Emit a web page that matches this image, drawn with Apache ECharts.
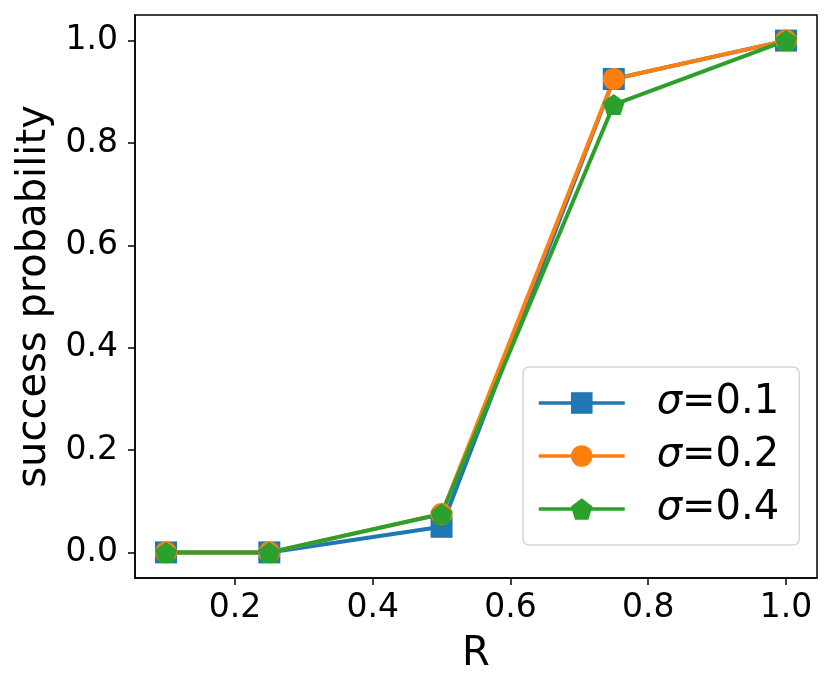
<!DOCTYPE html>
<html>
<head>
<meta charset="utf-8">
<script src="https://cdn.jsdelivr.net/npm/echarts@6/dist/echarts.min.js"></script>
<style>
html, body { margin: 0; padding: 0; background: #fff; }
#chart_main { width: 831px; height: 691px; }
</style>
</head>
<body>
<div id="chart_main"></div>
<script type="text/javascript">
// data
var r_values = [0.1, 0.25, 0.5, 0.75, 1.0];
var sigma_names = ['σ=0.1', 'σ=0.2', 'σ=0.4'];
var p_sigma01 = [0, 0, 0.05, 0.925, 1.0];
var p_sigma02 = [0, 0, 0.075, 0.925, 1.0];
var p_sigma04 = [0, 0, 0.075, 0.875, 1.0];
var x_ticks = [0.2, 0.4, 0.6, 0.8, 1.0];
var y_ticks = [0.0, 0.2, 0.4, 0.6, 0.8, 1.0];

var colors = ['#1f77b4', '#ff7f0e', '#2ca02c'];
var pentagon = 'path://M0,-100L95.1,-30.9L58.8,80.9L-58.8,80.9L-95.1,-30.9Z';
var font = 'DejaVu Sans';

function pairs(ys) {
	var out = [];
	for (var i = 0; i < r_values.length; i++) out.push([r_values[i], ys[i]]);
	return out;
}

function make_series(name, ys, color, symbol, size) {
	return {
		name: name,
		type: 'line',
		data: pairs(ys),
		symbol: symbol,
		symbolSize: size,
		showAllSymbol: true,
		color: color,
		itemStyle: {color: color, opacity: 1},
		lineStyle: {color: color, width: 4},
		emphasis: {disabled: true},
		animation: false
	};
}

var myChart = echarts.init(document.getElementById('chart_main'), null, {renderer: 'canvas'});
var option = {
	animation: false,
	textStyle: {fontFamily: font},
	grid: {
		left: 135, right: 14, top: 15, bottom: 113,
		show: true, borderColor: '#000', borderWidth: 1.5, backgroundColor: '#fff'
	},
	legend: {
		orient: 'vertical',
		left: 523, top: 367,
		padding: [16, 20, 16, 14],
		itemGap: 13,
		itemWidth: 86,
		itemHeight: 27,
		backgroundColor: '#fff',
		borderColor: '#d6d6d6',
		borderWidth: 1.5,
		borderRadius: 6,
		lineStyle: {width: 3.5},
		data: sigma_names,
		formatter: function (name) {
			return '{s|σ}{n|' + name.slice(1) + '}';
		},
		textStyle: {
			fontFamily: font,
			fontSize: 40,
			color: '#000',
			padding: [0, 0, 0, 27],
			rich: {
				s: {fontFamily: font, fontSize: 40, fontStyle: 'italic', color: '#000', lineHeight: 46},
				n: {fontFamily: font, fontSize: 40, color: '#000', lineHeight: 46}
			}
		}
	},
	xAxis: {
		type: 'value',
		min: 0.055, max: 1.045,
		name: 'R',
		nameLocation: 'middle',
		nameGap: 57,
		nameTextStyle: {fontFamily: font, fontSize: 40, color: '#000'},
		axisLine: {show: true, onZero: false, lineStyle: {color: '#000', width: 1.5}},
		axisTick: {show: true, inside: false, length: 7, customValues: x_ticks, lineStyle: {color: '#000', width: 1.5}},
		axisLabel: {
			customValues: x_ticks, margin: 14, fontFamily: font, fontSize: 33, color: '#000',
			formatter: function (v) { return v.toFixed(1); }
		},
		splitLine: {show: false}
	},
	yAxis: {
		type: 'value',
		min: -0.05, max: 1.05,
		name: 'success probability',
		nameLocation: 'middle',
		nameGap: 80,
		nameTextStyle: {fontFamily: font, fontSize: 40, color: '#000'},
		axisLine: {show: true, onZero: false, lineStyle: {color: '#000', width: 1.5}},
		axisTick: {show: true, inside: false, length: 7, customValues: y_ticks, lineStyle: {color: '#000', width: 1.5}},
		axisLabel: {
			customValues: y_ticks, margin: 17, fontFamily: font, fontSize: 33, color: '#000',
			formatter: function (v) { return v.toFixed(1); }
		},
		splitLine: {show: false}
	},
	series: [
		make_series(sigma_names[0], p_sigma01, colors[0], 'rect', 22),
		make_series(sigma_names[1], p_sigma02, colors[1], 'circle', 22),
		make_series(sigma_names[2], p_sigma04, colors[2], pentagon, [22, 21])
	]
};
myChart.setOption(option);
</script>
</body>
</html>
